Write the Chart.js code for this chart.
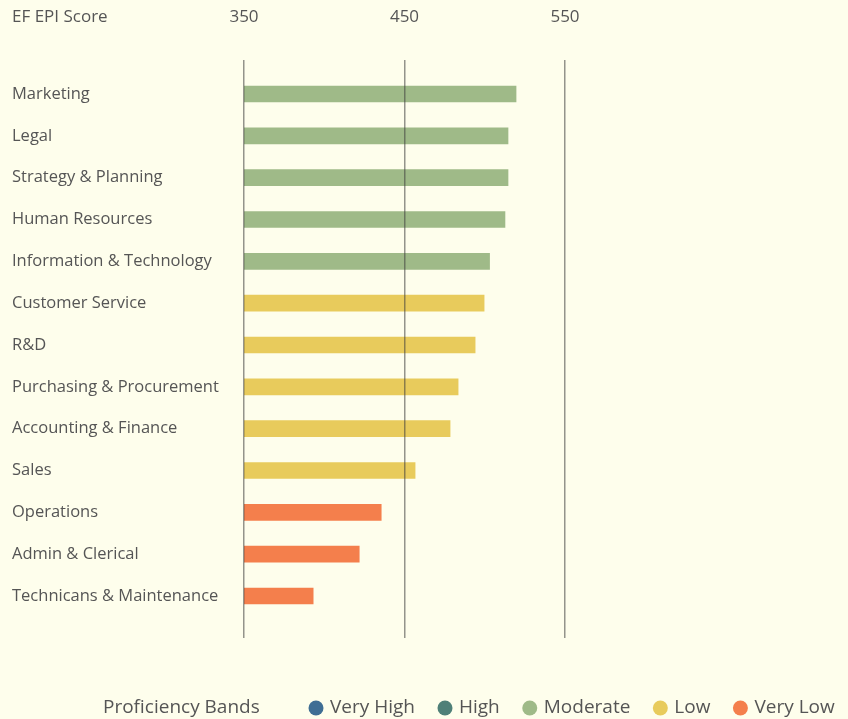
<!DOCTYPE html>
<html>
<head>
<meta charset="utf-8">
<script src="https://cdn.jsdelivr.net/npm/chart.js@4/dist/chart.umd.min.js"></script>
<style>
  html, body { margin: 0; padding: 0; background: #fefeec; }
  #wrap { position: relative; width: 848px; height: 719px; }
  canvas { display: block; }
</style>
</head>
<body>
<div id="wrap"><canvas id="c" width="848" height="719"></canvas></div>
<script>
const categories = [
  "Marketing", "Legal", "Strategy & Planning", "Human Resources",
  "Information & Technology", "Customer Service", "R&D",
  "Purchasing & Procurement", "Accounting & Finance", "Sales",
  "Operations", "Admin & Clerical", "Technicans & Maintenance"
];
const scores = [519.5, 514.5, 514.5, 512.6, 503, 499.6, 494, 483.4, 478.4, 456.6, 435.5, 421.8, 393.1];
const bands = ["Moderate", "Moderate", "Moderate", "Moderate", "Moderate", "Low", "Low", "Low", "Low", "Low", "Very Low", "Very Low", "Very Low"];
const bandNames = ["Very High", "High", "Moderate", "Low", "Very Low"];
const bandColors = ["#3f6e94", "#4f8078", "#9fba88", "#e8cb5c", "#f47f4c"];
const xTicks = [350, 450, 550];
const axisTitle = "EF EPI Score";
const legendTitle = "Proficiency Bands";

const FONT = "'Open Sans', sans-serif";
const TEXT = "#555555";

const colorOf = b => bandColors[bandNames.indexOf(b)];

const extras = {
  id: 'extras',
  afterDraw(chart) {
    const ctx = chart.ctx;
    ctx.save();
    ctx.fillStyle = TEXT;
    ctx.textBaseline = 'middle';
    ctx.textAlign = 'left';
    ctx.font = "17px " + FONT;
    ctx.fillText(axisTitle, 12, 17);
    // legend
    const ly = 708;
    ctx.font = "19px " + FONT;
    ctx.fillText(legendTitle, 103, ly);
    let x = 309;
    bandNames.forEach((name, i) => {
      ctx.beginPath();
      ctx.fillStyle = bandColors[i];
      ctx.arc(x + 7, ly, 7.5, 0, Math.PI * 2);
      ctx.fill();
      ctx.fillStyle = TEXT;
      ctx.fillText(name, x + 21, ly);
      x += 21 + ctx.measureText(name).width + 23;
    });
    ctx.restore();
  }
};

new Chart(document.getElementById('c'), {
  type: 'bar',
  data: {
    datasets: [{
      data: scores.map((v, i) => ({ x: v, y: i })),
      backgroundColor: bands.map(colorOf),
      barThickness: 16,
      borderWidth: 0
    }]
  },
  options: {
    indexAxis: 'y',
    responsive: false,
    animation: false,
    events: [],
    layout: { padding: { left: 12, right: 283, top: 0, bottom: 81 } },
    plugins: { legend: { display: false }, tooltip: { enabled: false } },
    scales: {
      x: {
        type: 'linear',
        position: 'top',
        min: 350,
        max: 550,
        afterBuildTicks: s => { s.ticks = xTicks.map(v => ({ value: v })); },
        afterFit: s => { s.height = 60; },
        grid: { z: 1, color: 'rgba(60,60,60,0.55)', lineWidth: 1.5, drawTicks: false },
        border: { display: false },
        ticks: { padding: 33, color: TEXT, font: { family: FONT, size: 17 } }
      },
      y: {
        type: 'linear',
        reverse: true,
        offset: false,
        bounds: 'data',
        min: -0.813,
        max: 13.004,
        afterDataLimits: s => { s.min = -0.813; s.max = 13.004; },
        afterBuildTicks: s => { s.ticks = categories.map((_, i) => ({ value: i })); s.min = -0.813; s.max = 13.004; },
        afterFit: s => { s.width = 232; },
        grid: { display: false, offset: false },
        border: { display: false },
        ticks: {
          crossAlign: 'far',
          color: TEXT,
          font: { family: FONT, size: 16.5 },
          callback: v => categories[v]
        }
      }
    }
  },
  plugins: [extras]
});
</script>
</body>
</html>
